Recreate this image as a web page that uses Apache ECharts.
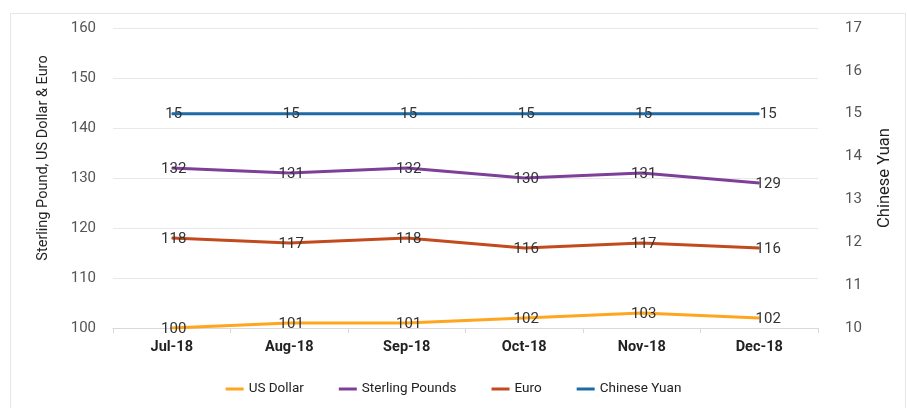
<!DOCTYPE html>
<html><head><meta charset="utf-8">
<script src="https://cdn.jsdelivr.net/npm/echarts@6/dist/echarts.min.js"></script>
<style>html,body{margin:0;padding:0;background:#fff}#c{width:907px;height:408px}</style>
</head><body><div id="c"></div>
<script>
var categories = ['Jul-18','Aug-18','Sep-18','Oct-18','Nov-18','Dec-18'];
var usDollar = [100,101,101,102,103,102];
var sterling = [132,131,132,130,131,129];
var euro = [118,117,118,116,117,116];
var yuan = [15,15,15,15,15,15];
var leftTicks = [100,160,10];
var rightTicks = [10,17,1];

var FONT = 'Roboto,"Liberation Sans",sans-serif';
function mk(name, data, color, axis){
  return {
    name: name, type: 'line', yAxisIndex: axis,
    data: data.map(function(v,i){
      var o = {value: v};
      if (i === data.length-1) o.label = {offset: [9,1]};
      return o;
    }),
    symbol: 'circle', symbolSize: 1, showSymbol: true,
    itemStyle: {color: color},
    lineStyle: {color: color, width: 3},
    label: {show: true, position: 'inside', offset: [2,1], color: '#333', fontSize: 15, fontFamily: FONT},
    emphasis: {disabled: true},
    animation: false
  };
}
var chart = echarts.init(document.getElementById('c'));
chart.setOption({
  animation: false,
  graphic: [{type:'rect', shape:{x:10.5,y:13.5,width:895,height:400}, style:{fill:'none',stroke:'#e6e6e6',lineWidth:1}, silent:true}],
  grid: {left: 113, right: 89, top: 28, bottom: 80},
  legend: {
    bottom: 7, left: 'center', itemGap: 35, itemWidth: 18, itemHeight: 3, icon: 'rect',
    textStyle: {fontSize: 13.5, color: '#222', fontFamily: FONT},
    data: ['US Dollar','Sterling Pounds','Euro','Chinese Yuan']
  },
  xAxis: {
    type: 'category', data: categories, boundaryGap: true,
    axisLine: {show: true, lineStyle: {color: '#d9d9d9'}},
    axisTick: {show: true, lineStyle: {color: '#d9d9d9'}},
    axisLabel: {color: '#222', fontSize: 14.5, fontWeight: 'bold', fontFamily: FONT, margin: 12}
  },
  yAxis: [{
    type: 'value', min: leftTicks[0], max: leftTicks[1], interval: leftTicks[2],
    name: 'Sterling Pound, US Dollar & Euro', nameLocation: 'middle', nameRotate: 90, nameGap: 62,
    nameTextStyle: {fontSize: 14.5, color: '#222', fontFamily: FONT, padding: [0, 0, 0, 40]},
    axisLine: {show: false}, axisTick: {show: false},
    axisLabel: {color: '#555', fontSize: 15, fontFamily: FONT, margin: 17},
    splitLine: {lineStyle: {color: '#e8e8e8'}}
  },{
    type: 'value', min: rightTicks[0], max: rightTicks[1], interval: rightTicks[2], position: 'right',
    name: 'Chinese Yuan', nameLocation: 'middle', nameRotate: 90, nameGap: 58,
    nameTextStyle: {fontSize: 16.5, color: '#222', fontFamily: FONT},
    axisLine: {show: false}, axisTick: {show: false},
    axisLabel: {color: '#555', fontSize: 15, fontFamily: FONT, margin: 27},
    splitLine: {show: false}
  }],
  series: [
    mk('US Dollar', usDollar, '#FFA51F', 0),
    mk('Sterling Pounds', sterling, '#7E3F98', 0),
    mk('Euro', euro, '#C24A1C', 0),
    mk('Chinese Yuan', yuan, '#1C6AA6', 1)
  ]
});
</script></body></html>
